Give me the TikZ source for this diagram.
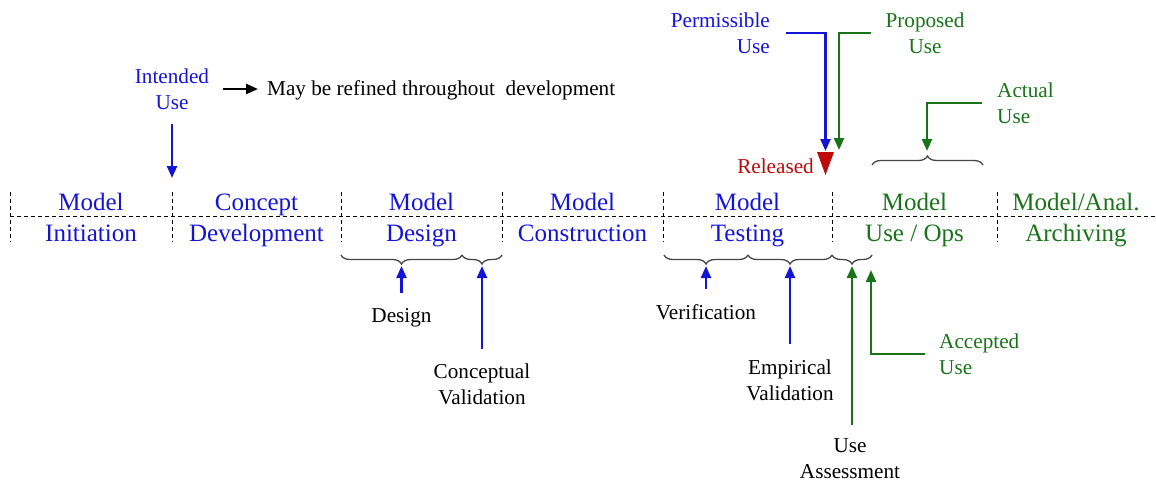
\documentclass[tikz,border=0pt]{standalone}
\usepackage{fontspec}
\setmainfont{Liberation Serif}
\usetikzlibrary{arrows.meta,decorations.pathreplacing,calc}
\definecolor{cblue}{RGB}{20,20,215}
\definecolor{cgreen}{RGB}{25,115,25}
\definecolor{cred}{RGB}{190,10,10}
\definecolor{cbrace}{RGB}{70,70,70}
\begin{document}
\begin{tikzpicture}[x=1pt,y=-1pt,
  big/.style={font=\fontsize{25}{30}\selectfont, inner sep=0pt, anchor=base},
  lbl/.style={font=\fontsize{21.2}{26}\selectfont, inner sep=0pt, align=center},
  sepline/.style={line width=0.9pt, dash pattern=on 4pt off 3pt},
  arr/.style={line width=2.3pt, -{Triangle[length=12pt,width=10pt]}},
  brc/.style={decorate, decoration={brace,amplitude=9pt}, cbrace, line width=1.3pt},
]
\useasboundingbox (0,0) rectangle (1156,483);

% timeline frame
\draw[sepline] (10,216) -- (1156,216);
\foreach \x in {10,172,341,502,663,832,997}
  \draw[sepline] (\x,192) -- (\x,242);

% phase labels
\node[big,cblue] (p1a) at (91,210) {Model};
\node[big,cblue] (p1b) at (91,241) {Initiation};
\node[big,cblue] (p2a) at (256.5,210) {Concept};
\node[big,cblue] (p2b) at (256.5,241) {Development};
\node[big,cblue] (p3a) at (421.5,210) {Model};
\node[big,cblue] (p3b) at (421.5,241) {Design};
\node[big,cblue] (p4a) at (582.5,210) {Model};
\node[big,cblue] (p4b) at (582.5,241) {Construction};
\node[big,cblue] (p5a) at (747.5,210) {Model};
\node[big,cblue] (p5b) at (747.5,241) {Testing};
\node[big,cgreen] (p6a) at (914.5,210) {Model};
\node[big,cgreen] (p6b) at (914.5,241) {Use / Ops};
\node[big,cgreen] (p7a) at (1076,210) {Model/Anal.};
\node[big,cgreen] (p7b) at (1076,241) {Archiving};

% intended use
\node[lbl,cblue] (intended) at (172,89) {Intended\\Use};
\node[lbl,anchor=base west] (may) at (267,95) {May be refined throughout\ \ development};
\coordinate (inttip) at (172,178);
\draw[arr,cblue,shorten <=14pt] (intended.south) -- (inttip);
\draw[arr,black,shorten <=14pt,shorten >=9pt] (intended.east) -- (intended.east -| may.west);

% released
\coordinate (reltop) at (825.5,151);
\fill[cred] (817,152) -- (834,152) -- (825.5,175) -- cycle;
\node[lbl,cred,anchor=base east] (released) at (814,173) {Released};
\node[lbl,cblue,align=right,anchor=east] (perm) at (770,33) {Permissible\\Use};
\node[lbl,cgreen] (prop) at (925,33) {Proposed\\Use};
\coordinate (proptip) at (839,150);
\draw[arr,cblue,shorten <=16pt] (perm.east) -| (reltop);
\draw[arr,cgreen,shorten <=14pt] (prop.west) -| (proptip);

% actual use
\draw[brc] (872,165) -- (983,165);
\node[lbl,cgreen,align=left,anchor=west] (actual) at (997,103) {Actual\\Use};
\coordinate (acttip) at (927,151);
\draw[arr,cgreen,shorten <=15pt] (actual.west) -| (acttip);

% design braces
\draw[brc] (462,255) -- (341,255);
\draw[brc] (502,255) -- (462,255);
\coordinate (dtip) at (401.5,266);
\coordinate (cvtip) at (482,266);
\node[lbl,anchor=base] (design) at (401.5,322) {Design};
\node[lbl] (concval) at (482,384) {Conceptual\\Validation};
\draw[arr,cblue,shorten <=15pt] (design.north) -- (dtip);
\draw[arr,cblue,shorten <=14pt] (concval.north) -- (cvtip);

% testing braces
\draw[brc] (748,255) -- (664,255);
\draw[brc] (832,255) -- (748,255);
\draw[brc] (872,255) -- (832,255);
\coordinate (vtip) at (706,266);
\coordinate (evtip) at (790,266);
\coordinate (uatip) at (852,266);
\node[lbl,anchor=base] (verif) at (706,319) {Verification};
\node[lbl] (empval) at (790,380) {Empirical\\Validation};
\node[lbl] (useass) at (850,459) {Use\\Assessment};
\draw[arr,cblue,shorten <=15pt] (verif.north) -- (vtip);
\draw[arr,cblue,shorten <=15pt] (empval.north) -- (evtip);
\draw[arr,cgreen,shorten <=14pt] (uatip |- useass.north) -- (uatip);

% accepted use
\node[lbl,cgreen,align=left,anchor=west] (accepted) at (939,354) {Accepted\\Use};
\coordinate (acctip) at (871,270);
\draw[arr,cgreen,shorten <=14pt] (accepted.west) -| (acctip);
\end{tikzpicture}
\end{document}
